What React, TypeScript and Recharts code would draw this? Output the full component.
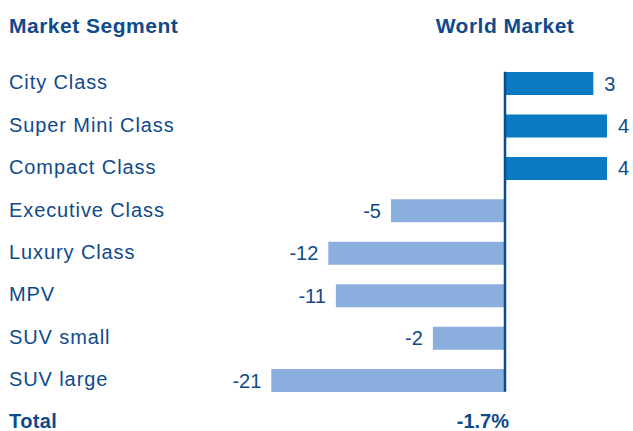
import React from 'react';
import { BarChart, Bar, XAxis, YAxis, Cell, LabelList, ReferenceLine, ReferenceDot } from 'recharts';

const segments = ['City Class', 'Super Mini Class', 'Compact Class', 'Executive Class', 'Luxury Class', 'MPV', 'SUV small', 'SUV large', 'Total'];
const changes: (number | null)[] = [3, 4, 4, -5, -12, -11, -2, -21, null];
const totalChange = '-1.7%';
const headers = ['Market Segment', 'World Market'];

const TEXT = '#0f4a8a';
const POS = '#0a7bc2';
const NEG = '#8aaedd';
const FONT = '"Liberation Sans", Arial, sans-serif';

const data = segments.map((segment, i) => ({ segment, change: changes[i] }));

const SegmentTick = (props: any) => {
    const { y, payload } = props;
    const isTotal = payload.value === 'Total';
    return (
        <text x={9} y={isTotal ? y - 2 : y - 1} dy="0.35em" fill={TEXT} fontSize={20} letterSpacing={isTotal ? 0.4 : 0.9}
            fontWeight={isTotal ? 700 : 400} fontFamily={FONT} textAnchor="start">
            {payload.value}
        </text>
    );
};

const ValueLabel = (props: any) => {
    const { x, y, width, height, value } = props;
    if (value == null) return null;
    const left = Math.min(x, x + width);
    const right = Math.max(x, x + width);
    const cy = y + height / 2;
    return value < 0 ? (
        <text x={left - 10} y={cy} dy="0.35em" textAnchor="end" fill={TEXT} fontSize={20} fontFamily={FONT}>{value}</text>
    ) : (
        <text x={right + 11} y={cy} dy="0.35em" textAnchor="start" fill={TEXT} fontSize={20} fontFamily={FONT}>{value}</text>
    );
};

const headStyle: React.CSSProperties = {
    position: 'absolute', top: 14, fontFamily: FONT, fontWeight: 700, fontSize: 21,
    lineHeight: '24px', color: TEXT, letterSpacing: 0.5, whiteSpace: 'nowrap',
};

const App: React.FC = () => {
    return (
        <div style={{ position: 'relative', width: 633, height: 431, overflow: 'hidden', background: '#fff' }}>
            <style>{'body{margin:0}'}</style>
            <div style={{ ...headStyle, left: 9 }}>{headers[0]}</div>
            <div style={{ ...headStyle, left: 405, width: 200, textAlign: 'center' }}>{headers[1]}</div>
            <div style={{ position: 'absolute', left: 0, top: 0 }}>
                <BarChart width={633} height={444} data={data} layout="vertical" barSize={23}
                    margin={{ top: 62, right: 26, bottom: 0, left: 0 }}>
                    <XAxis type="number" hide scale="sqrt" domain={[-25, 4]} allowDataOverflow />
                    <YAxis type="category" dataKey="segment" width={250} axisLine={false} tickLine={false}
                        tick={<SegmentTick />} interval={0} />
                    <Bar dataKey="change" isAnimationActive={false}>
                        {data.map((d, i) => (
                            <Cell key={i} fill={(d.change ?? 0) >= 0 ? POS : NEG} />
                        ))}
                        <LabelList dataKey="change" content={<ValueLabel />} />
                    </Bar>
                    <ReferenceLine
                        segment={[{ x: 0, y: segments[0] }, { x: 0, y: segments[7] }]}
                        shape={(p: any) => (
                            <line x1={p.x1} x2={p.x2} y1={Math.min(p.y1, p.y2) - 11.5} y2={Math.max(p.y1, p.y2) + 11.5}
                                stroke={TEXT} strokeWidth={2.5} />
                        )}
                    />
                    <ReferenceDot x={0} y="Total" r={0}
                        shape={(p: any) => (
                            <text x={p.cx + 4} y={p.cy - 2} dy="0.35em" textAnchor="end" fill={TEXT} fontSize={20}
                                fontWeight={700} fontFamily={FONT}>{totalChange}</text>
                        )}
                    />
                </BarChart>
            </div>
        </div>
    );
};

export default App;
